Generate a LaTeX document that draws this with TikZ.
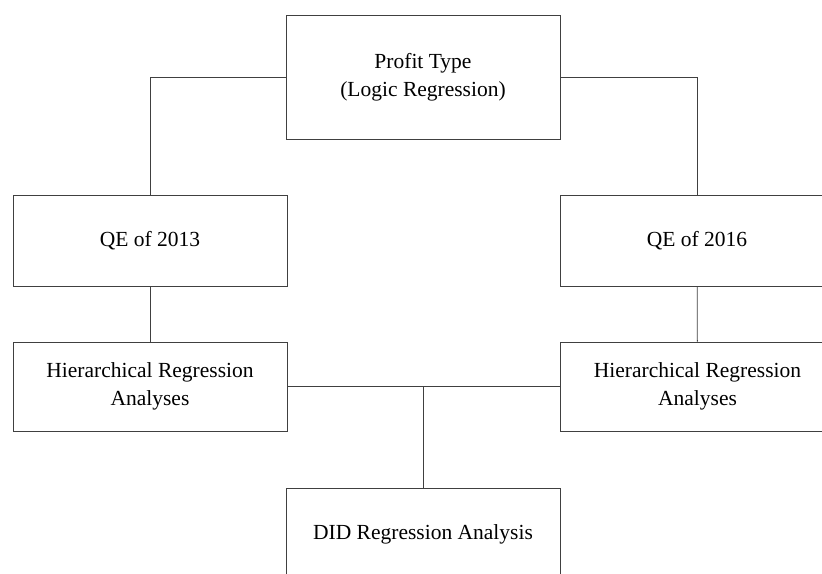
\documentclass[tikz,border=0pt]{standalone}
\usepackage{fontspec}
\setmainfont{Liberation Serif}
\tikzset{
  box/.style={draw=black!75, line width=0.8pt, align=center, minimum width=274pt,
    inner sep=0pt, font=\fontsize{21.5}{27.5}\selectfont},
  link/.style={draw=black!75, line width=0.8pt}
}
\begin{document}
\begin{tikzpicture}[x=1pt, y=-1pt]
  \clip (0, 0) rectangle (822, 573);

  \node [box, minimum height=124pt] (p) at (423, 77) {Profit Type\\(Logic Regression)};

  \node [box, minimum height=91pt] (q1) at (150, 240.5) {QE of 2013};
  \draw [link] (p.west) -| (q1.north);
  \node [box, minimum height=91pt] (q2) at (697, 240.5) {QE of 2016};
  \draw [link] (p.east) -| (q2.north);

  \node [box, minimum height=89pt] (h1) at (150, 386.5) {Hierarchical Regression\\Analyses};
  \draw [link] (q1) to (h1);
  \node [box, minimum height=89pt] (h2) at (697.5, 386.5) {Hierarchical Regression\\Analyses};
  \draw [link] (q2) to (h2);
  \draw [link] (h1.east) to (h2.west);

  \node [box, minimum height=92pt] (d) at (423, 534) {DID Regression Analysis};
  \draw [link] (d.north) to (d.north |- h1.east);
\end{tikzpicture}
\end{document}
